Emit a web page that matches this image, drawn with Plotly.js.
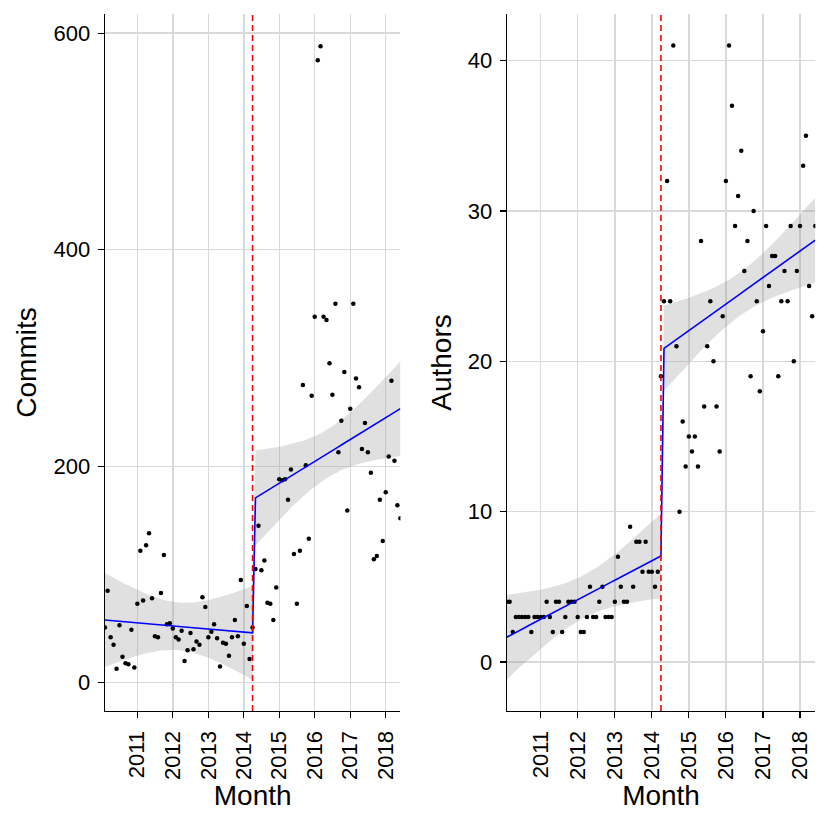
<!DOCTYPE html>
<html><head><meta charset="utf-8">
<script src="https://cdn.plot.ly/plotly-3.0.1.min.js"></script>
<style>html,body{margin:0;padding:0;background:#fff}#chart{width:830px;height:830px}</style>
</head><body><div id="chart"></div>
<script>
// Monthly observations, Feb 2010 .. Jun 2018
const months = [
 '2010-02','2010-03','2010-04','2010-05','2010-06','2010-07','2010-08','2010-09','2010-10','2010-11','2010-12',
 '2011-01','2011-02','2011-03','2011-04','2011-05','2011-06','2011-07','2011-08','2011-09','2011-10','2011-11','2011-12',
 '2012-01','2012-02','2012-03','2012-04','2012-05','2012-06','2012-07','2012-08','2012-09','2012-10','2012-11','2012-12',
 '2013-01','2013-02','2013-03','2013-04','2013-05','2013-06','2013-07','2013-08','2013-09','2013-10','2013-11','2013-12',
 '2014-01','2014-02','2014-03','2014-04','2014-05','2014-06','2014-07','2014-08','2014-09','2014-10','2014-11','2014-12',
 '2015-01','2015-02','2015-03','2015-04','2015-05','2015-06','2015-07','2015-08','2015-09','2015-10','2015-11','2015-12',
 '2016-01','2016-02','2016-03','2016-04','2016-05','2016-06','2016-07','2016-08','2016-09','2016-10','2016-11','2016-12',
 '2017-01','2017-02','2017-03','2017-04','2017-05','2017-06','2017-07','2017-08','2017-09','2017-10','2017-11','2017-12',
 '2018-01','2018-02','2018-03','2018-04','2018-05','2018-06'];

const commits = [
 51,85,42,35,13,53,24,18,17,49,14,
 73,122,76,127,138,78,43,42,83,118,54,
 55,50,42,40,48,20,30,46,31,38,35,79,
 70,42,47,54,41,15,37,36,25,42,58,43,
 95,36,71,22,51,
 105,145,104,113,74,73,58,88,
 188,187,188,169,197,119,73,122,275,201,133,265,
 338,575,588,338,335,295,266,350,213,242,287,159,
 253,350,281,273,216,240,213,194,114,117,169,131,
 176,209,279,205,164,152];

const authors = [
 4,4,2,3,3,3,3,3,2,3,3,
 3,3,4,3,2,4,4,2,3,4,4,
 4,3,2,2,3,5,3,3,4,5,3,3,
 3,4,7,5,4,4,9,5,8,8,6,8,
 6,6,5,6,19,
 24,32,24,41,21,10,16,13,
 15,14,15,13,28,17,21,24,20,17,14,23,
 32,41,37,29,31,34,26,28,19,30,24,18,
 22,29,25,27,27,19,24,26,24,29,20,26,
 29,33,35,25,23,29];

const interventionMonth = '2014-04';
const yearTicks = ['2011','2012','2013','2014','2015','2016','2017','2018'];
const commitTicks = [0,200,400,600];
const authorTicks = [0,10,20,30,40];

// Segmented (interrupted time series) linear model with separate level/slope per period,
// pooled residual variance, 95% confidence interval of the fitted mean.
const T_CRIT = 1.9847; // t(0.975, df = 97)
function segmentedFit(y) {
  const n = y.length;
  const t = y.map((_, i) => i + 1);
  const isPre = months.map(m => m <= interventionMonth);
  const segs = [true, false].map(flag => {
    const idx = t.map((_, i) => i).filter(i => isPre[i] === flag);
    const k = idx.length;
    const tb = idx.reduce((s, i) => s + t[i], 0) / k;
    const yb = idx.reduce((s, i) => s + y[i], 0) / k;
    let sxx = 0, sxy = 0;
    idx.forEach(i => { sxx += (t[i] - tb) ** 2; sxy += (t[i] - tb) * (y[i] - yb); });
    const b = sxy / sxx, a = yb - b * tb;
    let sse = 0;
    idx.forEach(i => { sse += (y[i] - a - b * t[i]) ** 2; });
    return {flag, k, tb, sxx, a, b, sse};
  });
  const s = Math.sqrt((segs[0].sse + segs[1].sse) / (n - 4));
  const fit = [], lo = [], hi = [];
  t.forEach((ti, i) => {
    const g = isPre[i] ? segs[0] : segs[1];
    const f = g.a + g.b * ti;
    const se = s * Math.sqrt(1 / g.k + (ti - g.tb) ** 2 / g.sxx);
    fit.push(f); lo.push(f - T_CRIT * se); hi.push(f + T_CRIT * se);
  });
  return {fit, lo, hi};
}

const FONT = 'Liberation Sans, Arial, Helvetica, sans-serif';
const xDates = months.map(m => m + '-01');

function traces(y, xa, ya) {
  const r = segmentedFit(y);
  return [
    {x: xDates, y: r.lo, xaxis: xa, yaxis: ya, mode: 'lines', line: {width: 0, color: 'rgba(0,0,0,0)'}, hoverinfo: 'skip', type: 'scatter'},
    {x: xDates, y: r.hi, xaxis: xa, yaxis: ya, mode: 'lines', line: {width: 0, color: 'rgba(0,0,0,0)'}, fill: 'tonexty', fillcolor: 'rgba(153,153,153,0.30)', hoverinfo: 'skip', type: 'scatter'},
    {x: xDates, y: y, xaxis: xa, yaxis: ya, mode: 'markers', marker: {color: 'black', size: 4.5}, type: 'scatter'},
    {x: xDates, y: r.fit, xaxis: xa, yaxis: ya, mode: 'lines', line: {color: '#0000ff', width: 1.6}, type: 'scatter'}
  ];
}

const data = [...traces(commits, 'x', 'y'), ...traces(authors, 'x2', 'y2')];

const W = 830;
function xAxis(domain, anchor) {
  return {
    domain: domain, anchor: anchor, type: 'date',
    range: ['2010-02-01', '2018-06-01'],
    tickvals: yearTicks.map(y => y + '-01-01'), ticktext: yearTicks,
    tickangle: -90, showgrid: true, gridcolor: '#d9d9d9', gridwidth: 1.4,
    showline: true, linecolor: 'black', linewidth: 1.2, zeroline: false,
    ticks: 'outside', ticklen: 6, tickwidth: 1.2, tickcolor: 'black',
    tickfont: {family: FONT, size: 22, color: 'black'},
    ticklabelstandoff: 4,
    title: {text: 'Month', font: {family: FONT, size: 28, color: 'black'}, standoff: 6},
    fixedrange: true
  };
}
function yAxis(range, ticks, title, anchor) {
  return {
    domain: [0, 1], anchor: anchor, range: range, tickvals: ticks, ticktext: ticks.map(String),
    showgrid: true, gridcolor: '#d9d9d9', gridwidth: 1.4, zeroline: false,
    showline: true, linecolor: 'black', linewidth: 1.2,
    ticks: 'outside', ticklen: 6, tickwidth: 1.2, tickcolor: 'black',
    tickfont: {family: FONT, size: 22, color: 'black'},
    ticklabelstandoff: 3,
    title: {text: title, font: {family: FONT, size: 28, color: 'black'}, standoff: 8},
    fixedrange: true
  };
}

const layout = {
  width: 830, height: 830,
  margin: {l: 0, r: 0, t: 14, b: 119, pad: 0},
  paper_bgcolor: 'white', plot_bgcolor: 'white',
  showlegend: false, hovermode: false,
  xaxis: xAxis([104.9 / W, 400.4 / W], 'y'),
  yaxis: yAxis([-26.1, 617.7], commitTicks, 'Commits', 'x'),
  xaxis2: xAxis([506.8 / W, 815.3 / W], 'y2'),
  yaxis2: yAxis([-3.26, 43.1], authorTicks, 'Authors', 'x2'),
  shapes: [
    {type: 'line', xref: 'x', yref: 'y domain', x0: interventionMonth + '-01', x1: interventionMonth + '-01', y0: 0, y1: 1,
     line: {color: 'red', width: 1.6, dash: '6px,4px'}},
    {type: 'line', xref: 'x2', yref: 'y2 domain', x0: interventionMonth + '-01', x1: interventionMonth + '-01', y0: 0, y1: 1,
     line: {color: 'red', width: 1.6, dash: '6px,4px'}}
  ]
};

Plotly.newPlot('chart', data, layout, {staticPlot: true, displayModeBar: false});
</script>
</body></html>
